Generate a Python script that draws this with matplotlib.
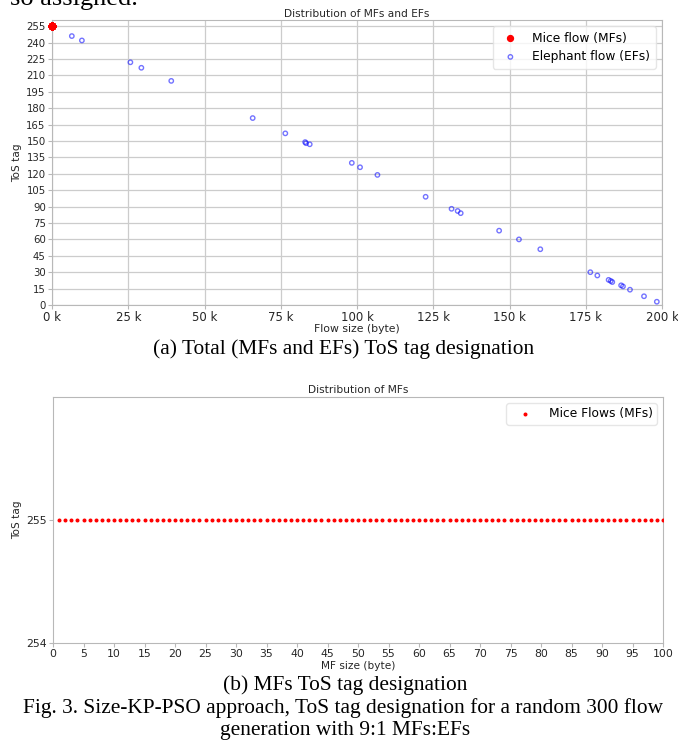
import numpy as np
import matplotlib
matplotlib.use("Agg")
import matplotlib.pyplot as plt
from matplotlib.ticker import FuncFormatter

# Mice flows: sizes in bytes, all tagged 255
mf_sizes = [1, 2, 3, 4, 5, 6, 7, 8, 9, 10,
            11, 12, 13, 14, 15, 16, 17, 18, 19, 20,
            21, 22, 23, 24, 25, 26, 27, 28, 29, 30,
            31, 32, 33, 34, 35, 36, 37, 38, 39, 40,
            41, 42, 43, 44, 45, 46, 47, 48, 49, 50,
            51, 52, 53, 54, 55, 56, 57, 58, 59, 60,
            61, 62, 63, 64, 65, 66, 67, 68, 69, 70,
            71, 72, 73, 74, 75, 76, 77, 78, 79, 80,
            81, 82, 83, 84, 85, 86, 87, 88, 89, 90,
            91, 92, 93, 94, 95, 96, 97, 98, 99, 100]
mf_tos = [255] * len(mf_sizes)

# Elephant flows: size (bytes) and ToS tag
ef_sizes = [6500, 9800, 25700, 29300, 39100, 65800, 76500, 83000, 83300, 84500,
            98300, 101000, 106700, 122500, 131000, 133000, 134000, 146600, 153100, 160100,
            176500, 178800, 182500, 183200, 183700, 186600, 187200, 189500, 194100, 198300]
ef_tos = [246, 242, 222, 217, 205, 171, 157, 149, 148, 147,
          130, 126, 119, 99, 88, 86, 84, 68, 60, 51,
          30, 27, 23, 22, 21, 18, 17, 14, 8, 3]

txt = "#262626"
spine_c = "#b8b8b8"

fig = plt.figure(figsize=(6.78, 7.45), dpi=100)

# ---- (a) all flows
ax1 = fig.add_axes([52/678, 1-305/745, 610/678, 285/745])
ax1.scatter(mf_sizes, mf_tos, s=18, color="red", label="Mice flow (MFs)", zorder=3, clip_on=False)
ax1.scatter(ef_sizes, ef_tos, s=10, facecolors="none", edgecolors="blue", alpha=0.55,
            linewidths=1.0, label="Elephant flow (EFs)", zorder=3)
ax1.set_xlim(0, 200000)
ax1.set_ylim(0, 260.7)
ax1.set_yticks(np.arange(0, 256, 15))
ax1.set_xticks(np.arange(0, 200001, 25000))
ax1.xaxis.set_major_formatter(FuncFormatter(lambda v, p: f"{v/1000:.0f} k"))
ax1.grid(True, color="#cccccc", linewidth=0.9)
ax1.set_axisbelow(True)
ax1.tick_params(axis="x", labelsize=8.5, length=3, color=spine_c, labelcolor=txt, pad=1.5)
ax1.tick_params(axis="y", labelsize=7.3, length=3, color=spine_c, labelcolor=txt, pad=1.5)
ax1.set_title("Distribution of MFs and EFs", fontsize=7.7, color=txt, pad=2)
ax1.set_xlabel("Flow size (byte)", fontsize=7.8, color=txt, labelpad=0)
ax1.set_ylabel("ToS tag", fontsize=7.6, color=txt, labelpad=3)
for s in ax1.spines.values():
    s.set_color(spine_c)
ax1.legend(loc="upper right", fontsize=8.8, frameon=True, edgecolor="#e0e0e0",
           borderpad=0.45, labelspacing=0.45)

# ---- (b) mice flows only
ax2 = fig.add_axes([53/678, 1-643/745, 610/678, 246/745])
ax2.scatter(mf_sizes, mf_tos, s=3.5, color="red", label="Mice Flows (MFs)", zorder=3)
ax2.set_xlim(0, 100)
ax2.set_ylim(254, 256)
ax2.set_yticks([254, 255])
ax2.set_xticks(np.arange(0, 101, 5))
ax2.tick_params(labelsize=7.8, length=3, color=spine_c, labelcolor=txt, pad=1.5)
ax2.set_title("Distribution of MFs", fontsize=7.7, color=txt, pad=3)
ax2.set_xlabel("MF size (byte)", fontsize=7.6, color=txt, labelpad=1)
ax2.set_ylabel("ToS tag", fontsize=7.6, color=txt, labelpad=3)
for s in ax2.spines.values():
    s.set_color(spine_c)
ax2.legend(loc="upper right", fontsize=8.8, frameon=True, edgecolor="#e0e0e0",
           handlelength=2.3, borderpad=0.35)

# ---- captions
serif = "Liberation Serif"
fig.text(10/678, 1-5/745, "so assigned.", family=serif, fontsize=19, va="baseline", ha="left")
fig.text(344/678, 1-349/745, "(a) Total (MFs and EFs) ToS tag designation",
         family=serif, fontsize=15.4, ha="center", va="center")
fig.text(345/678, 1-685/745, "(b) MFs ToS tag designation",
         family=serif, fontsize=15.4, ha="center", va="center")
fig.text(343/678, 1-708/745,
         "Fig. 3. Size-KP-PSO approach, ToS tag designation for a random 300 flow",
         family=serif, fontsize=15.4, ha="center", va="center")
fig.text(345/678, 1-731/745, "generation with 9:1 MFs:EFs",
         family=serif, fontsize=15.4, ha="center", va="center")

fig.savefig("out.png", dpi=100)
